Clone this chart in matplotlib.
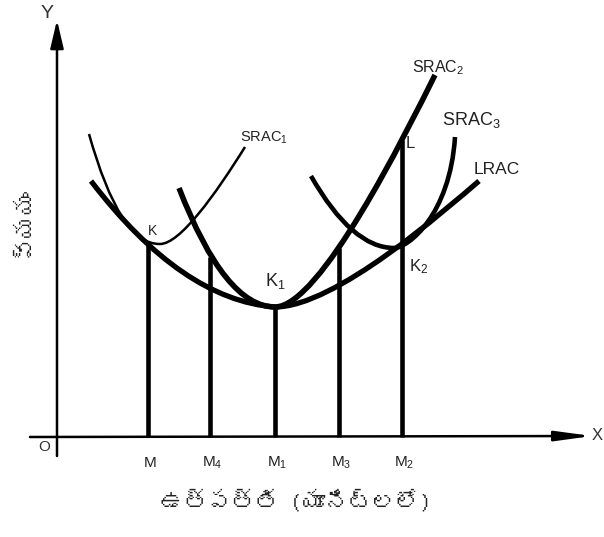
import matplotlib
matplotlib.use("Agg")
import matplotlib.pyplot as plt
from matplotlib.path import Path
from matplotlib.patches import PathPatch
from matplotlib import font_manager
from matplotlib.ft2font import FT2Font

# ---------------- data (pixel-like units) ----------------
tick_labels = ["M", r"M$_4$", r"M$_1$", r"M$_3$", r"M$_2$"]
tick_x = [148, 210, 275, 339, 402]
line_tops = [242, 257, 307, 248, 140]

# curve control points (start, control(s), end) for each branch
lrac_left = [(91, 181), (182, 300), (275, 307)]
lrac_right = [(275, 307), (335, 307), (445, 210), (479, 181)]
srac1_left = [(89, 134), (120, 245), (160, 244)]
srac1_right = [(160, 244), (180, 244), (215, 195), (245, 147)]
srac2_left = [(179, 188), (225, 307), (275, 307)]
srac2_right = [(275, 307), (320, 307), (405, 135), (435, 75)]
srac3_left = [(311, 176), (352, 248), (394, 248)]
srac3_right = [(394, 248), (408, 248), (450, 215), (455, 137)]

x_label = "ఉత్పత్తి (యూనిట్లలో)"
y_label = "వ్యయం"

# ---------------- fonts ----------------
plt.rcParams["mathtext.fontset"] = "custom"
plt.rcParams["mathtext.rm"] = "Liberation Sans"
plt.rcParams["mathtext.it"] = "Liberation Sans"
plt.rcParams["font.family"] = ["Liberation Sans", "DejaVu Sans"]

telugu_family = None
for f in font_manager.fontManager.ttflist:
    try:
        cm = FT2Font(f.fname).get_charmap()
    except Exception:
        continue
    if 0x0C24 in cm and 0x0C2F in cm:
        telugu_family = f.name
        break
tel_fam = [telugu_family, "DejaVu Sans"] if telugu_family else ["Noto Sans", "DejaVu Sans"]

fig = plt.figure(figsize=(6.04, 5.37), dpi=100)
ax = fig.add_axes([0, 0, 1, 1])
ax.set_xlim(0, 604)
ax.set_ylim(537, 0)
ax.axis("off")


def branch(ax, pts, lw):
    if len(pts) == 3:
        codes = [Path.MOVETO, Path.CURVE3, Path.CURVE3]
    else:
        codes = [Path.MOVETO, Path.CURVE4, Path.CURVE4, Path.CURVE4]
    ax.add_patch(PathPatch(Path(pts, codes), fill=False, lw=lw, color="black",
                           capstyle="butt"))


# axes with arrows
ax.annotate("", xy=(57, 20), xytext=(57, 456),
            arrowprops=dict(arrowstyle="-|>,head_length=1.7,head_width=0.4",
                            lw=1.8, color="black", shrinkA=0, shrinkB=0))
ax.annotate("", xy=(592, 436), xytext=(30, 437),
            arrowprops=dict(arrowstyle="-|>,head_length=2.2,head_width=0.3",
                            lw=1.8, color="black", shrinkA=0, shrinkB=0))

# vertical lines
for x, top in zip(tick_x, line_tops):
    ax.plot([x, x], [437, top], color="black", lw=3.3, solid_capstyle="butt")

# curves
branch(ax, lrac_left, 3.8)
branch(ax, lrac_right, 3.8)
branch(ax, srac1_left, 1.8)
branch(ax, srac1_right, 1.8)
branch(ax, srac2_left, 4.0)
branch(ax, srac2_right, 4.0)
branch(ax, srac3_left, 3.3)
branch(ax, srac3_right, 3.3)

txt = "#222222"
# tick labels
for x, lab in zip(tick_x, tick_labels):
    ax.text(x + 2, 463, lab, ha="center", va="center", fontsize=11, color=txt)

# curve labels
ax.text(240, 138, r"SRAC$_1$", ha="left", va="center", fontsize=10.5, color=txt)
ax.text(412, 68, r"SRAC$_2$", ha="left", va="center", fontsize=11.5, color=txt)
ax.text(442, 120, r"SRAC$_3$", ha="left", va="center", fontsize=13, color=txt)
ax.text(474, 170, "LRAC", ha="left", va="center", fontsize=12.5, color=txt)
ax.text(148, 231, "K", ha="left", va="center", fontsize=10, color=txt)
ax.text(265, 281, r"K$_1$", ha="left", va="center", fontsize=13, color=txt)
ax.text(409, 267, r"K$_2$", ha="left", va="center", fontsize=12, color=txt)
ax.text(406, 143, "L", ha="left", va="center", fontsize=12, color=txt)

ax.text(47, 13, "Y", ha="center", va="center", fontsize=14, color="#333333")
ax.text(603, 436, "X", ha="right", va="center", fontsize=12, color="#333333")
ax.text(44, 447, "O", ha="center", va="center", fontsize=11, color="#333333")

ax.text(296, 501, x_label, ha="center", va="center", fontsize=17, color=txt,
        family=tel_fam, fontweight="bold")
ax.text(24, 222, y_label, ha="center", va="center", fontsize=17, color=txt,
        family=tel_fam, rotation=90, fontweight="bold")

fig.savefig("out.png", dpi=100)
